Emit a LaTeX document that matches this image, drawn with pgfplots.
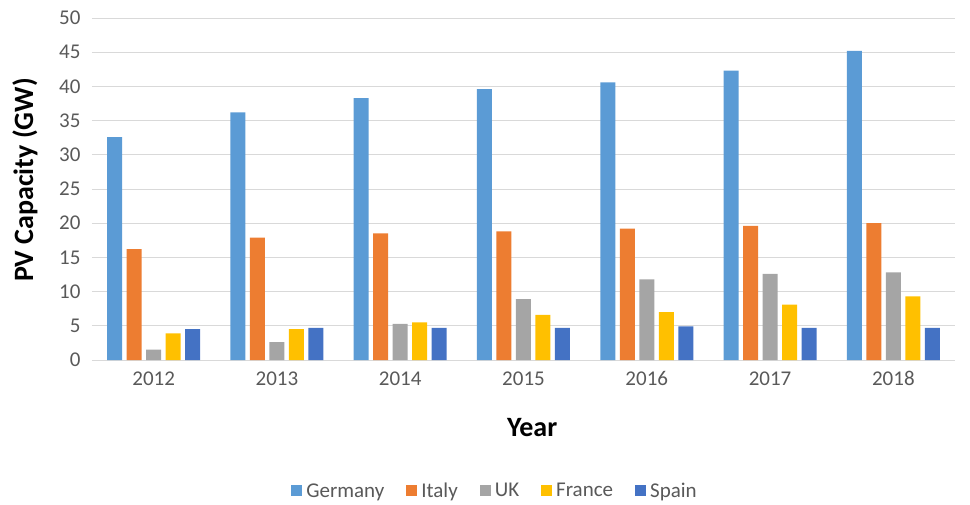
\documentclass[border=0pt]{standalone}
\usepackage{pgfplots}
\pgfplotsset{compat=1.18}
\usepackage{fontspec}
\setmainfont{Carlito}
\definecolor{cGer}{HTML}{5B9BD5}
\definecolor{cIta}{HTML}{ED7D31}
\definecolor{cUK}{HTML}{A5A5A5}
\definecolor{cFra}{HTML}{FFC000}
\definecolor{cSpa}{HTML}{4472C4}
\definecolor{tickgray}{HTML}{595959}
\definecolor{gridgray}{HTML}{D9D9D9}
\begin{document}
\begin{tikzpicture}
\useasboundingbox (-92pt,-144pt) rectangle (878pt,360pt);
\begin{axis}[
  at={(0pt,0pt)}, anchor=south west,
  scale only axis, width=863pt, height=342pt,
  ybar=4.5pt, bar width=15pt,
  xmin=-0.5, xmax=6.5, ymin=0, ymax=50,
  xtick=data, xticklabels={2012,2013,2014,2015,2016,2017,2018},
  ytick={0,5,...,50},
  ymajorgrids, grid style={gridgray, line width=0.8pt},
  axis x line*=bottom, axis y line*=left,
  x axis line style={gridgray, line width=0.8pt},
  y axis line style={draw=none},
  major tick length=0pt,
  tick label style={font=\fontsize{21}{24}\selectfont, text=tickgray},
  /pgf/number format/assume math mode=true,
  yticklabel style={xshift=-8pt},
  xticklabel style={yshift=-8pt},
  xlabel={\textbf{Year}},
  xlabel style={font=\fontsize{28}{32}\selectfont, at={(axis description cs:0.51,-0.196)}, anchor=center},
  ylabel={\textbf{PV Capacity (GW)}},
  ylabel style={font=\fontsize{28}{32}\selectfont, at={(axis description cs:-0.0776,0.526)}, anchor=center},
  legend style={at={(0.467,-0.383)}, anchor=center, draw=none, legend columns=-1,
    font=\fontsize{21}{24}\selectfont, text=tickgray,
    /tikz/every odd column/.append style={column sep=2pt},
    /tikz/every even column/.append style={column sep=20pt}},
  legend image code/.code={\fill[#1] (0pt,-5.5pt) rectangle (11pt,5.5pt);},
]
\addplot[fill=cGer, draw=none] coordinates {(0,32.6) (1,36.2) (2,38.3) (3,39.6) (4,40.6) (5,42.3) (6,45.2)};
\addplot[fill=cIta, draw=none] coordinates {(0,16.2) (1,17.9) (2,18.5) (3,18.8) (4,19.2) (5,19.6) (6,20.0)};
\addplot[fill=cUK, draw=none] coordinates {(0,1.5) (1,2.6) (2,5.3) (3,8.9) (4,11.8) (5,12.6) (6,12.8)};
\addplot[fill=cFra, draw=none] coordinates {(0,3.9) (1,4.5) (2,5.5) (3,6.6) (4,7.0) (5,8.1) (6,9.3)};
\addplot[fill=cSpa, draw=none] coordinates {(0,4.5) (1,4.7) (2,4.7) (3,4.7) (4,4.9) (5,4.7) (6,4.7)};
\legend{Germany, Italy, UK, France, Spain}
\end{axis}
\end{tikzpicture}
\end{document}
